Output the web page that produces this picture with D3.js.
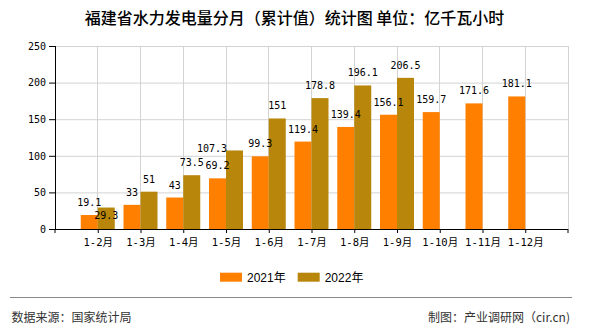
<!DOCTYPE html>
<html><head><meta charset="utf-8">
<script src="https://cdn.jsdelivr.net/npm/d3@7"></script>
<style>
html,body{margin:0;padding:0;background:#fff;}
svg{display:block;}
</style></head>
<body>
<svg id="chart" width="590" height="330"></svg>
<script>
const categories = ["1-2月","1-3月","1-4月","1-5月","1-6月","1-7月","1-8月","1-9月","1-10月","1-11月","1-12月"];
const values2021 = [19.1, 33, 43, 69.2, 99.3, 119.4, 139.4, 156.1, 159.7, 171.6, 181.1];
const values2022 = [29.3, 51, 73.5, 107.3, 151, 178.8, 196.1, 206.5, null, null, null];
const seriesNames = ["2021年", "2022年"];
const yTicks = [0, 50, 100, 150, 200, 250];
const titleText = "福建省水力发电量分月（累计值）统计图 单位：亿千瓦小时";
const sourceText = "数据来源：国家统计局";
const creditText = "制图：产业调研网（cir.cn)";

(function () {
const colors = ["#FF8000", "#B8860B"];
const monoFont = "'DejaVu Sans Mono', 'Noto Sans CJK SC', monospace";
const cjkFont = "'Noto Sans CJK SC', 'DejaVu Sans', sans-serif";

const svg = d3.select("#chart");
const pL = 55, pR = 568, pT = 46, pB = 229;

const x = d3.scalePoint().domain(categories).range([pL, pR]).padding(1);
const y = d3.scaleLinear().domain([0, 250]).range([pB, pT]);
const barW = 17;

// Title
svg.append("text").attr("x", 294.5).attr("y", 17).attr("text-anchor", "middle")
  .attr("dominant-baseline", "central")
  .style("font-family", cjkFont).style("font-size", "16px").style("font-weight", "500")
  .attr("fill", "#000").text(titleText);

// Grid
const grid = svg.append("g");
grid.selectAll("line.h").data(yTicks.slice(1)).join("line")
  .attr("x1", pL).attr("x2", pR).attr("y1", d => y(d) + 0.5).attr("y2", d => y(d) + 0.5)
  .attr("stroke", "#d3d3d3").attr("stroke-width", 1);
grid.selectAll("line.v").data(categories).join("line")
  .attr("x1", d => x(d)).attr("x2", d => x(d)).attr("y1", pT).attr("y2", pB)
  .attr("stroke", "#d3d3d3").attr("stroke-width", 1).attr("shape-rendering", "crispEdges");
grid.append("line").attr("x1", pR).attr("x2", pR).attr("y1", pT).attr("y2", pB)
  .attr("stroke", "#d3d3d3").attr("shape-rendering", "crispEdges");

// Bars
const bars = svg.append("g");
bars.selectAll("rect.a").data(values2021.map((v, i) => ({v, c: categories[i]}))).join("rect")
  .attr("x", d => x(d.c) - barW).attr("width", barW)
  .attr("y", d => y(d.v)).attr("height", d => y(0) - y(d.v))
  .attr("fill", colors[0]);
bars.selectAll("rect.b").data(values2022.map((v, i) => ({v, c: categories[i]})).filter(d => d.v != null)).join("rect")
  .attr("x", d => x(d.c)).attr("width", barW)
  .attr("y", d => y(d.v)).attr("height", d => y(0) - y(d.v))
  .attr("fill", colors[1]);

// Axes
const yAxis = d3.axisLeft(y).tickValues(yTicks).tickSize(6).tickPadding(3).tickFormat(d3.format("d"));
const yg = svg.append("g").attr("transform", `translate(${pL},0)`).call(yAxis);
yg.select(".domain").attr("stroke", "#000").attr("d", `M0.5,${pT}V${pB}`);
yg.selectAll(".tick line").attr("stroke", "#000");
yg.selectAll(".tick text").style("font-family", monoFont).style("font-size", "10px").attr("fill", "#000");

const xAxis = d3.axisBottom(x).tickSize(4).tickPadding(4);
const xg = svg.append("g").attr("transform", `translate(0,${pB})`).call(xAxis);
xg.select(".domain").attr("stroke", "#000").attr("d", `M${pL - 6},0.5H${pR}M${pR},0V4M${pL},0V4`);
xg.selectAll(".tick line").attr("stroke", "#000");
xg.selectAll(".tick text").style("font-family", monoFont).style("font-size", "10.5px").attr("fill", "#000")
  .attr("dy", "0.9em");

// Value labels with simple overlap avoidance
const labels = svg.append("g");
const placed = [];
function overlaps(b) {
  return placed.some(p => b.x1 < p.x2 + 1 && b.x2 + 1 > p.x1 && b.y1 < p.y2 + 1 && b.y2 + 1 > p.y1);
}
function addLabel(cx, topY, v, candidates) {
  const t = labels.append("text").attr("text-anchor", "middle").attr("dominant-baseline", "central")
    .style("font-family", monoFont).style("font-size", "10px").attr("fill", "#000").text(v);
  const w = t.node().getComputedTextLength();
  let chosen = candidates[0];
  for (const c of candidates) {
    const px = cx + c[0], py = topY + c[1];
    const b = {x1: px - w / 2, x2: px + w / 2, y1: py - 4, y2: py + 4};
    if (!overlaps(b)) { chosen = c; break; }
  }
  const px = cx + chosen[0], py = topY + chosen[1];
  placed.push({x1: px - w / 2, x2: px + w / 2, y1: py - 4, y2: py + 4});
  t.attr("x", px).attr("y", py);
}
const cands = [[0, -12.5], [0, 8], [-22.5, -1.5], [0, -24]];
values2021.forEach((v, i) => addLabel(x(categories[i]) - barW / 2, y(v), v, cands));
values2022.forEach((v, i) => { if (v != null) addLabel(x(categories[i]) + barW / 2, y(v), v, cands); });

// Legend
const legend = svg.append("g");
const legendX = [220, 297.7];
seriesNames.forEach((n, i) => {
  legend.append("rect").attr("x", legendX[i]).attr("y", 272.7).attr("width", 22).attr("height", 9).attr("fill", colors[i]);
  legend.append("text").attr("x", legendX[i] + 27).attr("y", 277.5).attr("dominant-baseline", "central")
    .style("font-family", "'Liberation Sans', Arial, 'Noto Sans CJK SC', sans-serif").style("font-size", "12px")
    .attr("fill", "#000").text(n);
});

// Footer
svg.append("line").attr("x1", 10).attr("x2", 572).attr("y1", 297.5).attr("y2", 297.5)
  .attr("stroke", "#888").attr("stroke-width", 1);
svg.append("text").attr("x", 11.5).attr("y", 316).attr("dominant-baseline", "central")
  .style("font-family", cjkFont).style("font-size", "12px").attr("fill", "#333").text(sourceText);
svg.append("text").attr("x", 570).attr("y", 316).attr("dominant-baseline", "central").attr("text-anchor", "end")
  .style("font-family", cjkFont).style("font-size", "12px").attr("fill", "#333").text(creditText);
})();
</script>
</body></html>
